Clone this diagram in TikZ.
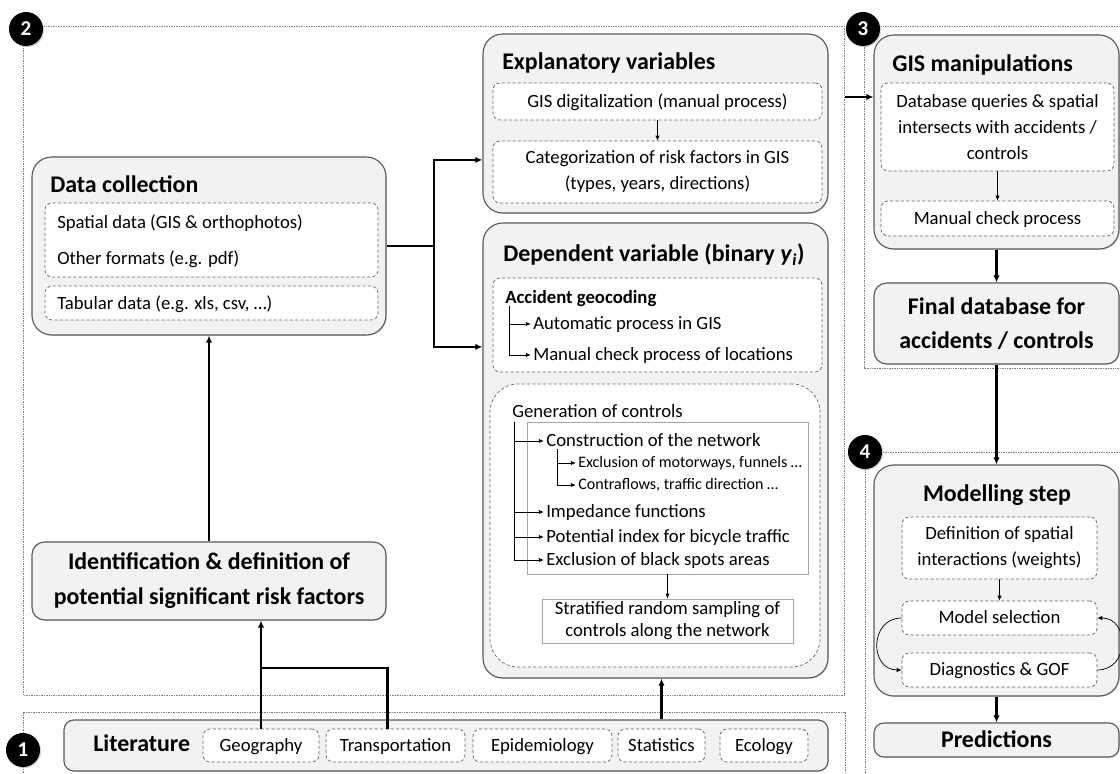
\documentclass[tikz,border=0pt]{standalone}
\usepackage{fontspec}
\setmainfont{Carlito}
\usetikzlibrary{arrows.meta,fit,shadows}

\begin{document}
\begin{tikzpicture}[%
      x=0.025cm, y=-0.025cm,
      stepbox/.style={draw=black!65, fill=black!5, rounded corners=14pt, line width=0.8pt, inner sep=0pt,
        drop shadow={opacity=0.25, shadow xshift=0.7pt, shadow yshift=-0.7pt}},
      subbox/.style={draw=black!60, dash pattern=on 2.2pt off 1.6pt, fill=white, rounded corners=5pt, line width=0.5pt, inner sep=0pt},
      plainbox/.style={draw=black!35, fill=white, line width=0.6pt, inner sep=0pt},
      zone/.style={draw=black!50, dash pattern=on 0.6pt off 0.6pt, line width=0.5pt},
      numdot/.style={circle, fill=black, text=white, minimum size=0.85cm, inner sep=0pt, font=\fontsize{15}{15}\selectfont\bfseries,
        drop shadow={opacity=0.35, shadow xshift=0.8pt, shadow yshift=-0.8pt}},
      ttl/.style={font=\fontsize{17}{20}\selectfont\bfseries, anchor=west, inner sep=0pt},
      bigtxt/.style={font=\fontsize{17}{25}\selectfont\bfseries, inner sep=0pt, align=center},
      txt/.style={font=\fontsize{13.3}{18.5}\selectfont, inner sep=0pt, align=center},
      oneline/.style={txt, text height=11pt, text depth=2.5pt},
      smalltxt/.style={font=\fontsize{11.4}{13}\selectfont, inner sep=0pt, anchor=west, text height=9pt, text depth=2pt},
      bigline/.style={line width=1.6pt},
      bigarrow/.style={line width=1.6pt, -{Latex[length=5pt,width=4.5pt]}},
      smallarrow/.style={line width=0.5pt, -{Latex[length=3.5pt,width=3pt]}},
      treearrow/.style={line width=0.6pt, shorten >=1.5pt, -{Latex[length=3.5pt,width=3pt]}},
      ]
      \useasboundingbox (0,0) rectangle (1120,774);
      \clip (0,0) rectangle (1120,774);

      % zones
      \draw[zone] (23,695) -- (23,26) -- (844,26) -- (844,695) -- cycle;
      \draw[zone] (1125,26) -- (864,26) -- (864,368) -- (1125,368);
      \draw[zone] (1125,452) -- (865,452) -- (865,780);
      \draw[zone] (23,780) -- (23,712) -- (845,712) -- (845,780);

      % step 2
      \node[stepbox, fit={(32,157) (386,335)}] (datacoll) {};
      \node[ttl] (datattl) at (50,184) {Data collection};
      \node[subbox, fit={(45,203) (378,277)}] (spatdata) {};
      \node[oneline, anchor=west] (spattxt) at (57,223) {Spatial data (GIS \& orthophotos)};
      \node[oneline, anchor=west] (othertxt) at (57,259) {Other formats (e.g. pdf)};
      \node[subbox, fit={(45,286) (378,320)}] (tabdata) {};
      \node[oneline, anchor=west] (tabtxt) at (57,304) {Tabular data (e.g. xls, csv, …)};

      \node[stepbox, rounded corners=9pt, fit={(32,542) (386,620)}] (ident) {};
      \node[bigtxt] (identtxt) at (ident) {Identification \& definition of\\potential significant risk factors};

      \node[stepbox, fit={(483,34) (828,213)}] (explvar) {};
      \node[ttl] (explttl) at (502,63) {Explanatory variables};
      \node[subbox, fit={(493,83) (822,120)}] (gisdig) {};
      \node[oneline] (gisdigtxt) at (gisdig) {GIS digitalization (manual process)};
      \node[subbox, fit={(493,141) (822,203)}] (categ) {};
      \node[txt] (categtxt) at (categ) {Categorization of risk factors in GIS\\(types, years, directions)};

      \node[stepbox, fit={(483,223) (828,678)}] (depvar) {};
      \node[ttl] (depttl) at (503,255) {Dependent variable (binary \textit{y}\textsubscript{\textit{i}})};
      \node[subbox, fit={(493,278) (822,372)}] (geocod) {};
      \node[oneline, anchor=west, font=\fontsize{13.3}{16}\selectfont\bfseries] (geottl) at (505,298) {Accident geocoding};
      \node[oneline, anchor=west] (autogis) at (533,324) {Automatic process in GIS};
      \node[oneline, anchor=west] (mangis) at (533,355) {Manual check process of locations};

      \node[subbox, rounded corners=20pt, fit={(490,384) (820,667)}] (genctrl) {};
      \node[oneline, anchor=west] (genttl) at (512,412) {Generation of controls};
      \node[plainbox, fit={(527,422) (808,574)}] (netbox) {};
      \node[oneline, anchor=west] (constr) at (546,441) {Construction of the network};
      \node[smalltxt] (exclmot) at (578,463) {Exclusion of motorways, funnels …};
      \node[smalltxt] (contraf) at (578,485) {Contraflows, traffic direction …};
      \node[oneline, anchor=west] (imped) at (546,512) {Impedance functions};
      \node[oneline, anchor=west] (potent) at (546,537) {Potential index for bicycle traffic};
      \node[oneline, anchor=west] (blacksp) at (546,560) {Exclusion of black spots areas};
      \node[plainbox, fit={(542,599) (793,643)}] (strat) {};
      \node[txt, font=\fontsize{13.3}{15.5}\selectfont] (strattxt) at (strat) {Stratified random sampling of\\controls along the network};

      % step 3
      \node[stepbox, fit={(874,35) (1119,249)}] (gisman) {};
      \node[ttl] (gisttl) at (892,65) {GIS manipulations};
      \node[subbox, fit={(881,83) (1114,171)}] (dbquery) {};
      \node[txt] (dbquerytxt) at (dbquery) {Database queries \& spatial\\intersects with accidents /\\controls};
      \node[subbox, fit={(881,201) (1114,236)}] (mancheck) {};
      \node[oneline] (manchecktxt) at (mancheck) {Manual check process};
      \node[stepbox, rounded corners=9pt, fit={(874,283) (1119,364)}] (finaldb) {};
      \node[bigtxt, font=\fontsize{17}{24}\selectfont\bfseries] (finaldbtxt) at (finaldb) {Final database for\\accidents / controls};

      % step 4
      \node[stepbox, fit={(874,465) (1119,696)}] (modstep) {};
      \node[ttl, anchor=center] (modttl) at (997,495) {Modelling step};
      \node[subbox, fit={(902,517) (1097,579)}] (defspat) {};
      \node[txt] (defspattxt) at (defspat) {Definition of spatial\\interactions (weights)};
      \node[subbox, fit={(902,601) (1097,635)}] (modsel) {};
      \node[oneline] (modseltxt) at (modsel) {Model selection};
      \node[subbox, fit={(902,653) (1097,687)}] (diag) {};
      \node[oneline] (diagtxt) at (diag) {Diagnostics \& GOF};
      \node[stepbox, rounded corners=7pt, fit={(874,723) (1119,757)}] (predict) {};
      \node[bigtxt, text height=13pt, text depth=3pt] (predicttxt) at (predict) {Predictions};

      % step 1
      \node[stepbox, rounded corners=7pt, fit={(64,720) (828,771)}] (literat) {};
      \node[ttl] (litttl) at (93,743) {Literature};
      \node[subbox, fit={(203,729) (319,762)}] (geog) {};
      \node[oneline] (geogtxt) at (geog) {Geography};
      \node[subbox, fit={(326,729) (465,762)}] (transp) {};
      \node[oneline] (transptxt) at (transp) {Transportation};
      \node[subbox, fit={(473,729) (612,762)}] (epid) {};
      \node[oneline] (epidtxt) at (epid) {Epidemiology};
      \node[subbox, fit={(618,729) (705,762)}] (stat) {};
      \node[oneline] (stattxt) at (stat) {Statistics};
      \node[subbox, fit={(720,729) (808,762)}] (ecol) {};
      \node[oneline] (ecoltxt) at (ecol) {Ecology};

      \node[numdot] (num2) at (26,29) {2};
      \node[numdot] (num3) at (863,29) {3};
      \node[numdot] (num4) at (865,452) {4};
      \node[numdot] (num1) at (23,750) {1};

      % connectors
      \coordinate (dcsplit) at ([xshift=1.18cm]datacoll.east);
      \draw[bigline] (datacoll.east) -- (dcsplit);
      \draw[bigarrow] (dcsplit) |- ([yshift=-0.91cm]explvar.west);
      \draw[bigarrow] (dcsplit) |- ([yshift=2.59cm]depvar.west);
      \draw[bigarrow] (ident.north) -- (datacoll.south);
      \coordinate (litjoin) at (261,668);
      \draw[bigline] ([xshift=-0.2cm]transp.north) |- (litjoin);
      \draw[bigarrow] (geog.north) -- (geog.north |- ident.south);
      \draw[bigarrow] (stat.north |- literat.north) -- (stat.north |- depvar.south);
      \draw[smallarrow] (gisdig) -- (categ);
      \draw[smallarrow] (netbox) -- (strat);

      \coordinate (geotrunk) at (509,306);
      \draw[treearrow] (geotrunk) |- (autogis.west);
      \draw[treearrow] (geotrunk) |- (mangis.west);
      \coordinate (gentrunk) at (514,422);
      \foreach \item in {constr, imped, potent, blacksp}
        \draw[treearrow] (gentrunk) |- (\item.west);
      \coordinate (nettrunk) at (557,449);
      \foreach \item in {exclmot, contraf}
        \draw[treearrow] (nettrunk) |- (\item.west);

      \coordinate (zone2exit) at (845,97);
      \draw[bigarrow, line width=1.3pt] (zone2exit) -- (zone2exit -| gisman.west);
      \draw[smallarrow] (dbquery) -- (mancheck);
      \draw[bigarrow] (gisman) -- (finaldb);
      \draw[bigarrow] (finaldb) -- (modstep);
      \draw[bigarrow] (modstep) -- (predict);
      \draw[smallarrow] (defspat) -- (modsel);
      \draw[smallarrow] (modsel.west) to[out=180, in=180, looseness=1.6] (diag.west);
      \draw[smallarrow] (diag.east) to[out=0, in=0, looseness=1.6] (modsel.east);
      \end{tikzpicture}
\end{document}
